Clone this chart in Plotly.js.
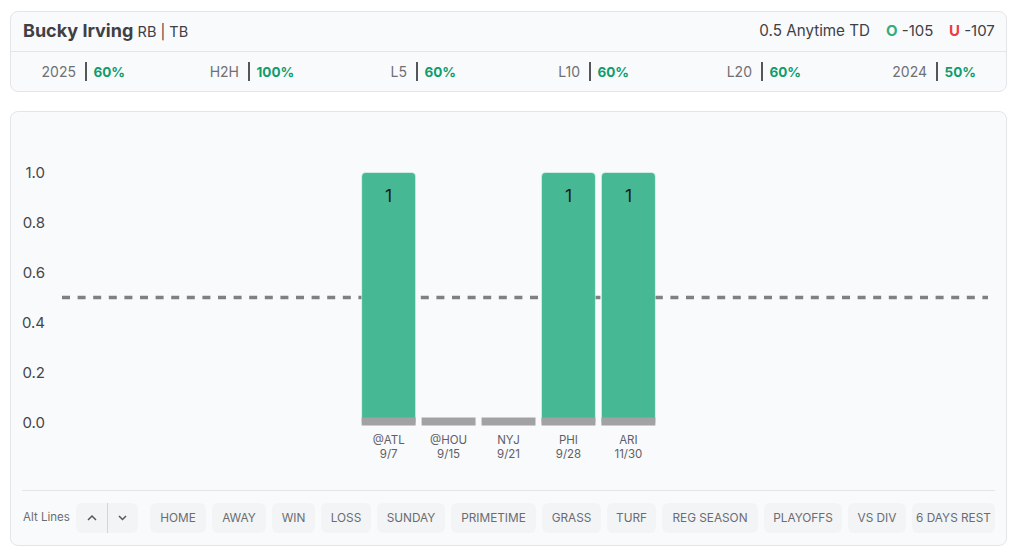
<!DOCTYPE html>
<html>
<head>
<meta charset="utf-8">
<script src="https://cdn.plot.ly/plotly-3.0.1.min.js"></script>
<style>
html,body{margin:0;padding:0;background:#fff;width:1024px;height:557px;overflow:hidden;font-family:Inter,"Noto Sans",sans-serif;}
.card{position:absolute;box-sizing:border-box;background:#f9fafc;border:1.5px solid #e3e5e9;border-radius:8px;}
.abs{position:absolute;white-space:nowrap;}
#chart{position:absolute;left:0;top:0;width:1024px;height:557px;}
.stat{position:absolute;top:64px;height:16px;line-height:16px;font-size:13.5px;white-space:nowrap;}
.stat .l{position:absolute;right:9px;color:#6f7075;font-weight:400;font-size:14px;}
.stat .b{position:absolute;left:0;top:-2px;width:1.5px;height:19px;background:#55565a;}
.stat .v{position:absolute;left:8.5px;color:#0f9d6c;font-weight:700;}
.btn{flex:none;box-sizing:border-box;height:30px;line-height:30px;text-align:center;background:#f3f4f6;border-radius:6px;font-size:11.8px;color:#6b6c72;}
#btns{position:absolute;left:150px;top:503px;width:845px;height:30px;display:flex;gap:6px;overflow:hidden;}
</style>
</head>
<body>
<div class="card" style="left:10px;top:11px;width:997px;height:81px;"></div>
<div class="abs" style="left:11px;top:51px;width:995px;height:1px;background:#e3e5e9;"></div>
<div class="abs" style="left:23px;top:20px;font-size:18px;font-weight:700;color:#3f4045;line-height:22px;">Bucky Irving <span style="font-size:14.5px;font-weight:400;">RB | TB</span></div>
<div class="abs" style="right:154px;top:22px;font-size:15.2px;color:#3f4045;line-height:18px;">0.5 Anytime TD</div>
<div class="abs" style="left:886px;top:22px;font-size:15px;line-height:18px;color:#3f4045;"><b style="color:#2fae85;">O</b> -105</div>
<div class="abs" style="left:949px;top:22px;font-size:15px;line-height:18px;color:#3f4045;"><b style="color:#ee3b45;">U</b> -107</div>
<div id="stats"></div>

<div class="card" style="left:10px;top:111px;width:997px;height:435px;"></div>
<div class="abs" style="left:22px;top:490px;width:973px;height:1px;background:#e3e5e9;"></div>
<div class="abs" style="left:23px;top:510px;font-size:11.5px;color:#6b6c72;line-height:15px;">Alt Lines</div>
<div class="abs" style="left:76px;top:503px;width:62px;height:30px;background:#f3f4f6;border-radius:6px;"></div>
<div class="abs" style="left:107px;top:503px;width:1px;height:30px;background:#d3d4d8;"></div>
<svg class="abs" style="left:76px;top:503px;" width="62" height="30" fill="none" stroke="#55565a" stroke-width="1.5"><path d="M12 17l4-4 4 4"/><path d="M43 13l3.5 3.5 3.5-3.5"/></svg>
<div id="btns"></div>
<div id="chart"></div>
<script>
const opponents = ["@ATL", "@HOU", "NYJ", "PHI", "ARI"];
const gameDates = ["9/7", "9/15", "9/21", "9/28", "11/30"];
const touchdowns = [1, 0, 0, 1, 1];
const lineValue = 0.5;
const yTicks = [0, 0.2, 0.4, 0.6, 0.8, 1.0];
const statLabels = ["2025", "H2H", "L5", "L10", "L20", "2024"];
const statValues = ["60%", "100%", "60%", "60%", "60%", "50%"];
const filterLabels = ["HOME", "AWAY", "WIN", "LOSS", "SUNDAY", "PRIMETIME", "GRASS", "TURF", "REG SEASON", "PLAYOFFS", "VS DIV", "6 DAYS REST"];

const statX = [85, 248, 416, 589, 761, 936];
const btnW = [56, 54, 43, 50, 68, 85, 59, 49, 96, 78, 58, 83];
document.getElementById("stats").innerHTML = statLabels.map((l, i) =>
  `<div class="stat" style="left:${statX[i]}px;"><span class="l">${l}</span><span class="b"></span><span class="v">${statValues[i]}</span></div>`).join("");
document.getElementById("btns").innerHTML = filterLabels.map((l, i) => `<div class="btn" style="width:${btnW[i]}px;">${l}</div>`).join("");

const idx = opponents.map((_, i) => i);
const greenBars = {
  type: "bar", x: idx, y: touchdowns, width: 0.9,
  marker: {color: "#46b994", cornerradius: 4, line: {color: "#ffffff", width: 0.5}},
  hoverinfo: "skip"
};
const greyBase = {
  type: "bar", x: idx, y: touchdowns.map(() => 0.032), base: -0.012, width: 0.9,
  marker: {color: "#a2a2a2", line: {width: 0}}, hoverinfo: "skip"
};
const layout = {
  width: 1024, height: 557,
  margin: {l: 61.5, r: 35.5, t: 130, b: 127},
  paper_bgcolor: "rgba(0,0,0,0)", plot_bgcolor: "rgba(0,0,0,0)",
  barmode: "overlay", showlegend: false,
  font: {family: "Inter, sans-serif"},
  xaxis: {
    type: "linear", range: [-5.45, 10], tickmode: "array", tickvals: idx,
    ticktext: opponents.map((o, i) => o + "<br>" + gameDates[i]),
    tickfont: {size: 11.5, color: "#5f6066"}, showgrid: false, zeroline: false,
    showline: false, ticks: "", ticklabelstandoff: 1
  },
  yaxis: {
    range: [-0.03, 1.17], tickmode: "array", tickvals: yTicks,
    ticktext: yTicks.map(v => v.toFixed(1)),
    tickfont: {size: 15, color: "#45464b"}, showgrid: false, zeroline: false,
    showline: false, ticks: "", ticklabelstandoff: 16
  },
  annotations: idx.filter(i => touchdowns[i]).map(i => ({
    x: i, y: touchdowns[i], xref: "x", yref: "y", text: String(touchdowns[i]),
    showarrow: false, yanchor: "top", yshift: -10,
    font: {family: "Inter, sans-serif", size: 17.5, color: "#1a1a1a"}
  })),
  shapes: [{
    type: "line", xref: "paper", x0: 0, x1: 1, yref: "y", y0: lineValue, y1: lineValue,
    layer: "below", line: {color: "#808084", width: 3.5, dash: "8px,7.6px"}
  }]
};
Plotly.newPlot("chart", [greenBars, greyBase], layout, {displayModeBar: false, staticPlot: true});
</script>
</body>
</html>
